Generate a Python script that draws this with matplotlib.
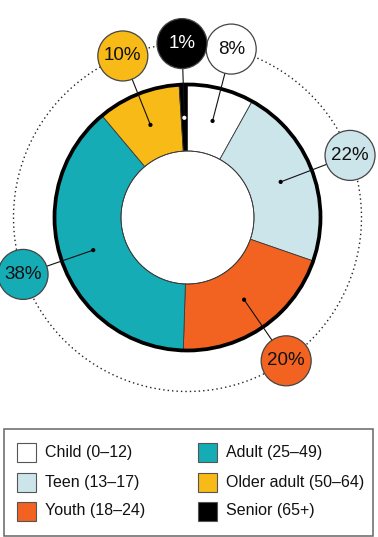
import numpy as np
import matplotlib
matplotlib.use("Agg")
import matplotlib.pyplot as plt
from matplotlib.patches import Circle, Rectangle

# ---- data ----
categories = ["Child (0\u201312)", "Teen (13\u201317)", "Youth (18\u201324)",
              "Adult (25\u201349)", "Older adult (50\u201364)", "Senior (65+)"]
values = [8, 22, 20, 38, 10, 1]
labels = ["8%", "22%", "20%", "38%", "10%", "1%"]
colors = ["#ffffff", "#cce5ea", "#f26322", "#15acb5", "#f8ba16", "#000000"]
label_colors = ["#111111"] * 5 + ["#ffffff"]
dot_colors = ["#000000"] * 5 + ["#ffffff"]

W, H = 378, 537
plt.rcParams['font.family'] = ['Liberation Sans', 'DejaVu Sans']

fig = plt.figure(figsize=(W / 100, H / 100), dpi=100)
ax = fig.add_axes([0, 0, 1, 1])

cx, cy = 187.5, H - 217.5
r_out, r_in = 133.0, 66.5
r_mid = (r_out + r_in) / 2
r_bub_orbit = 174.0
r_bub = 25.0

wedges, _ = ax.pie(values, colors=colors, startangle=90, counterclock=False,
                   radius=r_out, center=(cx, cy),
                   wedgeprops=dict(width=r_out - r_in, edgecolor="#3a3a3a",
                                   linewidth=0.6))
for w in wedges:
    w.set_zorder(2)

# outer thick ring and inner edge
ax.add_patch(Circle((cx, cy), r_out, fill=False, edgecolor="black",
                    linewidth=2.7, zorder=3))
ax.add_patch(Circle((cx, cy), r_in, fill=False, edgecolor="#3a3a3a",
                    linewidth=0.6, zorder=3))

# dotted orbit
theta = np.linspace(0, 2 * np.pi, 400)
ax.plot(cx + r_bub_orbit * np.cos(theta), cy + r_bub_orbit * np.sin(theta),
        color="#222222", linewidth=1.0, linestyle=(0, (1, 2.2)), zorder=1)

total = sum(values)
cum = 0
for i, v in enumerate(values):
    mid = np.deg2rad(90 - 360 * (cum + v / 2) / total)
    cum += v
    dx, dy = np.cos(mid), np.sin(mid)
    px, py = cx + r_mid * dx, cy + r_mid * dy
    bx, by = cx + r_bub_orbit * dx, cy + r_bub_orbit * dy
    ax.plot([px, bx], [py, by], color="#111111", linewidth=0.8, zorder=4)
    ax.add_patch(Circle((px, py), 2.1, facecolor=dot_colors[i],
                        edgecolor="none", zorder=5))
    ax.add_patch(Circle((bx, by), r_bub, facecolor=colors[i],
                        edgecolor="#444444", linewidth=0.9, zorder=6))
    ax.text(bx, by, labels[i], ha="center", va="center", fontsize=13.5,
            color=label_colors[i], zorder=7)

# legend box
ax.add_patch(Rectangle((3.5, H - 536), 369, 107.5, fill=False,
                       edgecolor="#666666", linewidth=1.1, zorder=2))
row_y = [452, 482, 511]
col_x = [17, 198]
for i, name in enumerate(categories):
    c, r = divmod(i, 3)
    yc = H - row_y[r]
    ax.add_patch(Rectangle((col_x[c], yc - 9.5), 19, 19, facecolor=colors[i],
                           edgecolor="#555555", linewidth=0.8, zorder=3))
    ax.text(col_x[c] + 28, yc, name, ha="left", va="center", fontsize=11.5,
            color="#111111", zorder=3)

ax.set_xlim(0, W)
ax.set_ylim(0, H)
ax.set_aspect("auto")
ax.axis("off")
fig.savefig("out.png", dpi=100)
